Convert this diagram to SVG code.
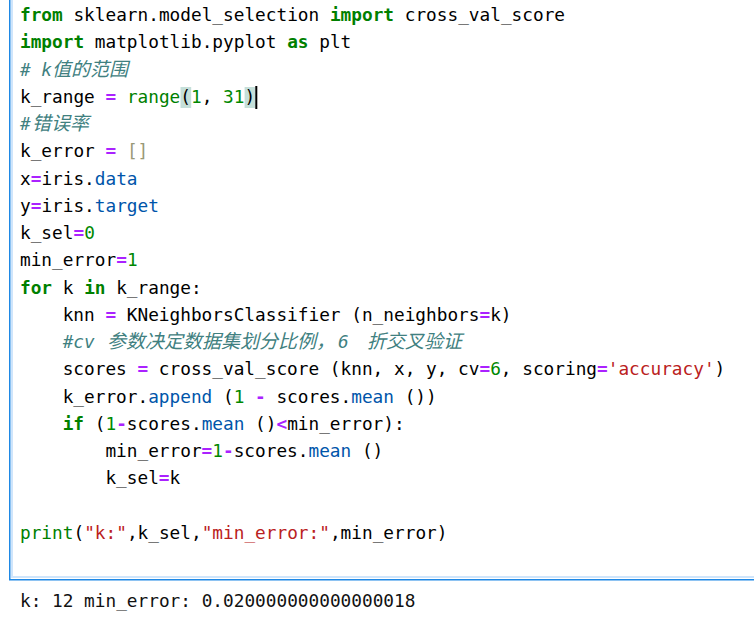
<svg xmlns="http://www.w3.org/2000/svg" width="754" height="630" viewBox="0 0 754 630">
<style>
.t{font-family:"DejaVu Sans Mono","Noto Sans CJK SC",monospace;font-size:17.75px;fill:#000}
.k{fill:#008000;font-weight:bold}
.b{fill:#008000}
.n{fill:#008800}
.o{fill:#AA22FF;font-weight:bold}
.s{fill:#BA2121}
.c{fill:#408080;font-style:italic}
.p{fill:#0055AA}
.g{fill:#999977}
.cj{font-size:19px}
.out{font-family:"DejaVu Sans Mono",monospace;font-size:17.75px;fill:#111}
</style>
<rect x="0" y="0" width="754" height="630" fill="#ffffff"/>
<g id="cell">
  <line x1="12" y1="0" x2="12" y2="577" stroke="#cfe5fb" stroke-width="2"/>
  <line x1="11" y1="577" x2="754" y2="577" stroke="#cfe5fb" stroke-width="2"/>
  <line x1="9.75" y1="0" x2="9.75" y2="580" stroke="#1E88E5" stroke-width="1.5"/>
  <line x1="9" y1="579.75" x2="754" y2="579.75" stroke="#1E88E5" stroke-width="1.5"/>
</g>
<g id="bracket-match">
  <rect x="180.5" y="87" width="10.7" height="21" fill="#c5dfd9"/>
  <rect x="244.6" y="87" width="10.7" height="21" fill="#c5dfd9"/>
  <rect x="255.3" y="86" width="2" height="23" fill="#000"/>
</g>
<g id="code" xml:space="preserve">
<text class="t" x="20" y="21"><tspan class="k">from</tspan> sklearn.model_selection <tspan class="k">import</tspan> cross_val_score</text>
<text class="t" x="20" y="48.25"><tspan class="k">import</tspan> matplotlib.pyplot <tspan class="k">as</tspan> plt</text>
<text class="t c" x="20" y="75.5"># k<tspan class="cj" x="52">值的范围</tspan></text>
<text class="t" x="20" y="102.75">k_range <tspan class="o">=</tspan> <tspan class="b">range</tspan>(<tspan class="n">1</tspan>, <tspan class="n">31</tspan>)</text>
<text class="t c" x="20" y="130">#<tspan class="cj" x="32">错误率</tspan></text>
<text class="t" x="20" y="157.25">k_error <tspan class="o">=</tspan> <tspan class="g">[]</tspan></text>
<text class="t" x="20" y="184.5">x<tspan class="o">=</tspan>iris.<tspan class="p">data</tspan></text>
<text class="t" x="20" y="211.75">y<tspan class="o">=</tspan>iris.<tspan class="p">target</tspan></text>
<text class="t" x="20" y="239">k_sel<tspan class="o">=</tspan><tspan class="n">0</tspan></text>
<text class="t" x="20" y="266.25">min_error<tspan class="o">=</tspan><tspan class="n">1</tspan></text>
<text class="t" x="20" y="293.5"><tspan class="k">for</tspan> k <tspan class="k">in</tspan> k_range:</text>
<text class="t" x="62.7" y="320.75">knn <tspan class="o">=</tspan> KNeighborsClassifier (n_neighbors<tspan class="o">=</tspan>k)</text>
<text class="t c" x="62.7" y="348">#cv <tspan class="cj" x="107">参数决定数据集划分比例，</tspan><tspan x="338">6 </tspan><tspan class="cj" x="367">折交叉验证</tspan></text>
<text class="t" x="62.7" y="375.25">scores <tspan class="o">=</tspan> cross_val_score (knn, x, y, cv<tspan class="o">=</tspan><tspan class="n">6</tspan>, scoring<tspan class="o">=</tspan><tspan class="s">'accuracy'</tspan>)</text>
<text class="t" x="62.7" y="402.5">k_error.<tspan class="p">append</tspan> (<tspan class="n">1</tspan> <tspan class="o">-</tspan> scores.<tspan class="p">mean</tspan> ())</text>
<text class="t" x="62.7" y="429.75"><tspan class="k">if</tspan> (<tspan class="n">1</tspan><tspan class="o">-</tspan>scores.<tspan class="p">mean</tspan> ()<tspan class="o">&lt;</tspan>min_error):</text>
<text class="t" x="105.4" y="457">min_error<tspan class="o">=</tspan><tspan class="n">1</tspan><tspan class="o">-</tspan>scores.<tspan class="p">mean</tspan> ()</text>
<text class="t" x="105.4" y="484.25">k_sel<tspan class="o">=</tspan>k</text>
<text class="t" x="20" y="538.75"><tspan class="b">print</tspan>(<tspan class="s">"k:"</tspan>,k_sel,<tspan class="s">"min_error:"</tspan>,min_error)</text>
</g>
<g id="output">
<text class="out" x="20" y="607">k: 12 min_error: 0.020000000000000018</text>
</g>
</svg>
